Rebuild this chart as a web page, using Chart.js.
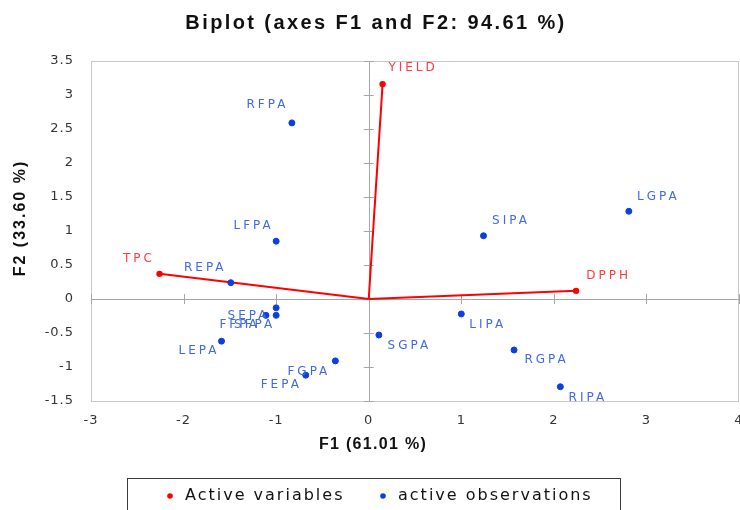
<!DOCTYPE html>
<html>
<head>
<meta charset="utf-8">
<script src="https://cdn.jsdelivr.net/npm/chart.js@4.4.1/dist/chart.umd.min.js"></script>
<style>
  html, body { margin: 0; padding: 0; background: #fff; }
  #wrap { width: 740px; height: 510px; position: relative; }
</style>
</head>
<body>
<div id="wrap"><canvas id="biplot"></canvas></div>
<script>
// observations (F1, F2 scores)
const obsNames = ["RFPA", "LFPA", "REPA", "SIPA", "LGPA", "LIPA", "RGPA", "RIPA", "SGPA", "FGPA", "FEPA", "LEPA", "SEPA", "SFPA", "FFPA"];
const obsF1 = [-0.83, -1.00, -1.49, 1.24, 2.81, 1.00, 1.57, 2.07, 0.11, -0.36, -0.68, -1.59, -1.11, -1.00, -1.00];
const obsF2 = [2.59, 0.85, 0.24, 0.93, 1.29, -0.22, -0.75, -1.29, -0.53, -0.91, -1.12, -0.62, -0.24, -0.24, -0.13];

// active variables (loadings)
const varNames = ["YIELD", "TPC", "DPPH"];
const varF1 = [0.15, -2.26, 2.24];
const varF2 = [3.16, 0.37, 0.12];

const xTicks = [-3, -2, -1, 0, 1, 2, 3, 4];
const yTicks = [-1.5, -1, -0.5, 0, 0.5, 1, 1.5, 2, 2.5, 3, 3.5];

// label offsets in px from the point (label centre)
const obsLabelOffset = {
    RFPA: [-26, -18], LFPA: [-24, -15], REPA: [-27, -15], SIPA: [26, -15], LGPA: [28, -14],
    LIPA: [25, 11], RGPA: [31, 10], RIPA: [26, 11], SGPA: [29, 11], FGPA: [-28, 11],
    FEPA: [-26, 10], LEPA: [-24, 10], SEPA: [-19, 1], SFPA: [-23, 10], FFPA: [-38, 17]
};
const varLabelOffset = { YIELD: [29, -16], TPC: [-22, -15], DPPH: [31, -15] };

const BLUE = "#0a3fe0";
const BLUE_TXT = "#4169e1";
const RED = "#ff0000";
const RED_TXT = "#ff3b3b";

const obsData = obsF1.map((x, i) => ({ x: x, y: obsF2[i] }));

const varSets = varNames.map((name, i) => ({
    label: name,
    type: "line",
    data: [{ x: 0, y: 0 }, { x: varF1[i], y: varF2[i] }],
    borderColor: RED,
    backgroundColor: RED,
    borderWidth: 2,
    pointRadius: [0, 3.2],
    pointHoverRadius: [0, 3.2],
    pointBorderWidth: 0,
    showLine: true,
    fill: false
}));

const biplotDecor = {
    id: "biplotDecor",
    beforeDraw(chart) {
        chart.ctx.letterSpacing = "1px";
    },
    beforeDatasetsDraw(chart) {
        const { ctx, chartArea: a, scales } = chart;
        const x0 = scales.x.getPixelForValue(0);
        const y0 = scales.y.getPixelForValue(0);
        ctx.save();
        ctx.letterSpacing = "0px";
        // frame
        ctx.strokeStyle = "#c8c8c8";
        ctx.lineWidth = 1;
        ctx.strokeRect(Math.round(a.left) + 0.5, Math.round(a.top) + 0.5, Math.round(a.right - a.left) - 1, Math.round(a.bottom - a.top));
        // zero axes
        ctx.strokeStyle = "#a6a6a6";
        ctx.beginPath();
        ctx.moveTo(Math.round(x0) + 0.5, a.top);
        ctx.lineTo(Math.round(x0) + 0.5, a.bottom);
        ctx.moveTo(a.left, Math.round(y0) + 0.5);
        ctx.lineTo(a.right, Math.round(y0) + 0.5);
        // small crossing ticks on the zero axes
        yTicks.forEach(v => {
            const py = Math.round(scales.y.getPixelForValue(v)) + 0.5;
            ctx.moveTo(x0 - 5, py);
            ctx.lineTo(x0 + 5, py);
        });
        xTicks.forEach(v => {
            const px = Math.round(scales.x.getPixelForValue(v)) + 0.5;
            ctx.moveTo(px, y0 - 5);
            ctx.lineTo(px, y0 + 5);
        });
        ctx.stroke();
        ctx.restore();
    },
    afterDatasetsDraw(chart) {
        const { ctx } = chart;
        ctx.save();
        ctx.font = "12px 'DejaVu Sans'";
        ctx.letterSpacing = "3px";
        ctx.textAlign = "center";
        ctx.textBaseline = "middle";
        const obsMeta = chart.getDatasetMeta(0);
        ctx.fillStyle = BLUE_TXT;
        obsNames.forEach((name, i) => {
            const el = obsMeta.data[i];
            const off = obsLabelOffset[name] || [20, -12];
            ctx.fillText(name, el.x + off[0] + 1.5, el.y + off[1]);
        });
        ctx.fillStyle = RED_TXT;
        varNames.forEach((name, i) => {
            const el = chart.getDatasetMeta(i + 1).data[1];
            const off = varLabelOffset[name] || [20, -12];
            ctx.fillText(name, el.x + off[0] + 1.5, el.y + off[1]);
        });
        ctx.restore();
    },
    afterDraw(chart) {
        const { ctx } = chart;
        ctx.save();
        ctx.fillStyle = "#111";
        ctx.textAlign = "center";
        ctx.textBaseline = "middle";
        // title
        ctx.font = "bold 20px 'Liberation Sans'";
        ctx.letterSpacing = "2.4px";
        ctx.fillText("Biplot (axes F1 and F2: 94.61 %)", 376, 23);
        // axis titles
        ctx.font = "bold 16px 'Liberation Sans'";
        ctx.letterSpacing = "1.3px";
        ctx.fillText("F1 (61.01 %)", 373, 445);
        ctx.letterSpacing = "2px";
        ctx.translate(21, 218);
        ctx.rotate(-Math.PI / 2);
        ctx.fillText("F2 (33.60 %)", 0, 0);
        ctx.setTransform(1, 0, 0, 1, 0, 0);
        // legend box
        ctx.strokeStyle = "#3a3a3a";
        ctx.lineWidth = 1;
        ctx.strokeRect(127.5, 478.5, 493, 40);
        ctx.font = "16px 'DejaVu Sans'";
        ctx.letterSpacing = "2px";
        ctx.textAlign = "left";
        const items = [
            { text: "Active variables", color: RED, x: 170 },
            { text: "active observations", color: BLUE, x: 383 }
        ];
        items.forEach(it => {
            ctx.fillStyle = it.color;
            ctx.beginPath();
            ctx.arc(it.x, 496, 2.8, 0, Math.PI * 2);
            ctx.fill();
            ctx.fillStyle = "#111";
            ctx.fillText(it.text, it.x + 15, 496);
        });
        ctx.restore();
    }
};

new Chart(document.getElementById("biplot"), {
    type: "scatter",
    data: {
        datasets: [
            {
                label: "active observations",
                data: obsData,
                backgroundColor: BLUE,
                borderColor: BLUE,
                pointRadius: 3,
                pointHoverRadius: 3
            },
            ...varSets
        ]
    },
    options: {
        responsive: true,
        maintainAspectRatio: false,
        animation: false,
        events: [],
        layout: { autoPadding: false, padding: { left: 0, right: 1, top: 61, bottom: 50 } },
        scales: {
            x: {
                type: "linear",
                min: -3,
                max: 4,
                afterBuildTicks: s => { s.ticks = xTicks.map(v => ({ value: v })); },
                afterFit: s => { s.height = 59; s.paddingLeft = 0; s.paddingRight = 0; },
                grid: { display: false, drawTicks: false },
                border: { display: false },
                ticks: {
                    padding: 12,
                    color: "#333",
                    font: { family: "'DejaVu Sans'", size: 13 },
                    maxRotation: 0,
                    callback: v => String(v)
                }
            },
            y: {
                type: "linear",
                min: -1.5,
                max: 3.5,
                afterBuildTicks: s => { s.ticks = yTicks.map(v => ({ value: v })); },
                afterFit: s => { s.width = 91; s.paddingTop = 0; s.paddingBottom = 0; },
                grid: { display: false, drawTicks: false },
                border: { display: false },
                ticks: {
                    padding: 17,
                    color: "#333",
                    font: { family: "'DejaVu Sans'", size: 13 },
                    callback: v => String(v)
                }
            }
        },
        plugins: {
            legend: { display: false },
            tooltip: { enabled: false },
            title: { display: false }
        }
    },
    plugins: [biplotDecor]
});
</script>
</body>
</html>
